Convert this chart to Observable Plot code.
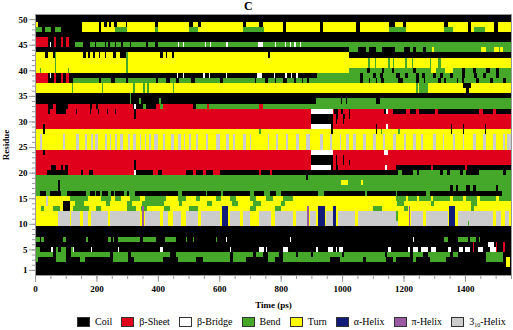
<!DOCTYPE html>
<html><head><meta charset="utf-8">
<script src="https://cdn.jsdelivr.net/npm/d3@7"></script>
<script src="https://cdn.jsdelivr.net/npm/@observablehq/plot@0.6"></script>
<style>
body{margin:0;background:#fff;}
#wrap{position:relative;width:513px;height:330px;font-family:"Liberation Serif",serif;}
#title{position:absolute;left:244px;top:0px;font-size:12px;font-weight:bold;line-height:1;}
#legend{position:absolute;left:77px;top:316px;display:flex;align-items:center;font-size:10px;line-height:12px;white-space:nowrap;}
.item{display:flex;align-items:center;margin-right:9px;white-space:nowrap;}
.sw{width:11px;height:8px;border:1px solid #333;margin-right:5px;flex:none;}
sub{font-size:6px;line-height:0;vertical-align:-2px;}
</style></head>
<body><div id="wrap"><div id="title">C</div><div id="chart"></div><div id="legend"></div></div>
<script>
const T_MAX = 1550;
const residues = d3.range(1, 51);
const states = ["Coil","β-Sheet","β-Bridge","Bend","Turn","α-Helix","π-Helix","3₁₀-Helix"];
const stateColors = ["#000000","#e0001b","#ffffff","#46a82a","#ffff00","#121c78","#9a5aa0","#cccccc"];
const xTicks = [0,200,400,600,800,1000,1200,1400];
const yTicks = [1,5,10,15,20,25,30,35,40,45,50];

// segments per residue: [residue, [start, end], ...] in ps
const turn = [
 [49,[0,10],[154,208],[215,226],[234,241],[248,256],[267,297],[300,390],[400,503],[514,530],[541,677],[688,731],[742,807],[818,927],[937,1046],[1057,1154],[1171,1198],[1209,1333],[1344,1409],[1420,1496],[1507,1550]],
 [48,[0,4],[154,208],[215,262],[300,390],[400,503],[530,677],[745,807],[818,927],[937,1046],[1057,1154],[1209,1333],[1360,1409],[1420,1430],[1465,1496],[1507,1550]],
 [43,[0,31],[42,59],[64,156],[167,172],[178,189],[194,208],[212,227],[232,254],[265,276],[303,406],[417,425],[429,447],[451,758],[765,1024]],
 [42,[0,1550]],[41,[0,1550]],[40,[0,1024]],
 [37,[0,1393],[1420,1550]],[36,[0,1405],[1413,1550]],
 [28,[0,1550]],[27,[0,1550]],[26,[0,1550]],[25,[0,1550]],
 [15,[0,37],[42,113],[173,216],[248,259],[281,308],[341,357],[427,465],[493,525],[536,590],[607,634],[655,699],[720,753],[775,807],[840,1176]],
 [14,[0,37],[42,91],[113,130],[160,230],[245,300],[315,350],[420,470],[480,560],[575,640],[660,710],[735,800],[815,1180],[1200,1290],[1300,1420],[1440,1550]],
 [13,[0,20],[30,60],[80,90],[113,125],[175,200],[215,300],[330,345],[365,420],[440,500],[530,1550]],
 [12,[0,1550]],[11,[0,1550]],[10,[0,1550]],
 [3,[1534,1546]],[2,[1534,1546]]
];
const turnTop = [
 [44,[1293,1299],[1453,1469],[1496,1510],[1515,1523]],
 [40,[1290,1307],[1334,1360]],
 [18,[997,1019],[1062,1068]],
 [15,[1209,1215],[1245,1252],[1290,1296],[1350,1362],[1395,1405],[1440,1450],[1500,1510]]
];
const grayColumns = [[15,23],[91,99],[135,143],[162,169],[183,188],[197,204],[227,234],[243,248],[259,266],[278,286],[303,308],[319,328],[341,346],[357,362],[371,379],[389,400],[417,422],[444,452],[465,476],[484,490],[503,508],[525,530],[558,563],[590,601],[623,631],[644,652],[677,688],[699,704],[758,763],[786,791],[818,823],[851,860],[883,894],[927,938],[959,968],[992,997],[1013,1022],[1035,1044],[1068,1079],[1100,1111],[1133,1141],[1165,1174],[1203,1208],[1230,1241],[1257,1265],[1296,1305],[1328,1333],[1360,1369],[1393,1398],[1426,1435],[1458,1467],[1491,1500],[1523,1532],[1538,1550]];
const graySpans = [[75,113],[118,145],[156,173],[183,238],[243,341],[357,406],[417,433],[449,476],[493,531],[541,601],[634,666],[677,699],[731,769],[780,840],[851,889],[894,916],[948,970],[986,1041],[1051,1182],[1225,1263],[1274,1344],[1377,1491],[1502,1518],[1529,1545]];
const helix310 = [
 [27,...grayColumns],[26,...grayColumns],[25,...grayColumns],
 [12,...graySpans],[11,...graySpans],[10,...graySpans],
 [15,[37,42]],[14,[37,42]],[7,[552,555]]
];
const bend = [
 [48,[4,22],[32,53],[64,86],[262,300],[390,400],[503,530],[677,745],[1154,1209],[1333,1360],[1430,1465]],
 [45,[129,156],[178,194],[200,227],[232,238],[243,259],[265,281],[286,308],[314,362],[368,390],[400,1550]],
 [44,[1024,1051],[1079,1089],[1110,1130],[1171,1203],[1220,1231],[1241,1263],[1274,1550]],
 [43,[64,69],[295,302]],
 [42,[64,69],[295,302],[1084,1090],[1106,1111],[1149,1155],[1165,1170],[1206,1212],[1228,1232],[1285,1290],[1312,1322]],
 [41,[64,69],[295,302],[1084,1090],[1106,1111],[1149,1155],[1165,1170],[1206,1212],[1228,1232],[1285,1290],[1312,1322]],
 [40,[15,20],[64,69],[107,110],[295,302],[1024,1080],[1090,1130],[1135,1162],[1170,1230],[1240,1290],[1307,1334],[1360,1390],[1400,1425],[1435,1470],[1480,1500],[1510,1550]],
 [39,[917,1057],[1068,1100],[1110,1122],[1133,1177],[1187,1205],[1215,1240],[1250,1260],[1270,1297],[1307,1320],[1330,1350],[1360,1390],[1400,1430],[1440,1460],[1470,1500],[1510,1550]],
 [38,[124,210],[216,248],[259,297],[303,395],[400,427],[438,460],[470,508],[520,601],[612,715],[720,748],[759,780],[786,808],[819,845],[851,870],[874,887],[891,1057],[1068,1087],[1091,1109],[1113,1127],[1138,1181],[1198,1241],[1252,1266],[1270,1312],[1322,1333],[1339,1375],[1379,1392],[1396,1437],[1447,1480],[1491,1524],[1535,1550]],
 [37,[120,125],[218,223],[320,326],[352,358],[365,371],[448,454],[1241,1247],[1252,1279]],
 [36,[120,125],[218,223],[320,326],[352,358],[365,371],[448,454],[1241,1247],[1252,1279]],
 [35,[309,312]],
 [34,[308,312],[340,345],[405,410],[914,995],[1000,1012],[1017,1110],[1122,1550]],
 [33,[351,362],[406,417],[525,560],[568,1550]],
 [29,[1181,1186]],
 [28,[731,737],[1127,1131],[1182,1190]],
 [20,[1181,1195],[1230,1245],[1252,1318],[1330,1340],[1350,1385],[1395,1405],[1447,1525],[1535,1550]],
 [19,[0,883],[889,1550]],
 [18,[0,75],[80,1550]],
 [17,[0,75],[80,1350],[1360,1372],[1378,1405],[1416,1427],[1437,1500],[1508,1550]],
 [16,[0,15],[37,48],[85,105],[165,178],[194,200],[212,218],[237,247],[258,262],[290,300],[306,326],[466,478],[556,560],[606,613],[699,712],[746,764],[785,802],[922,940],[1075,1082],[1176,1180],[1273,1285],[1522,1550]],
 [15,[113,173],[216,248],[259,281],[308,341],[357,427],[465,493],[525,536],[590,607],[634,655],[699,720],[753,775],[807,840],[1176,1550]],
 [14,[130,160],[230,245],[300,315],[350,420],[470,480],[560,575],[640,660],[710,735],[800,815],[1180,1200],[1290,1300],[1420,1440]],
 [13,[20,30],[60,80],[125,175],[200,215],[300,330],[345,365],[420,440],[500,530],[700,720],[780,800],[1100,1130],[1200,1215],[1420,1430]],
 [12,[1176,1182]],[11,[1176,1182]],[10,[1409,1413]],
 [7,[2,15],[21,28],[91,102],[167,173],[238,246],[254,257],[270,341],[352,395],[422,460],[493,496],[514,517],[590,593],[1333,1344],[1377,1409],[1415,1437],[1447,1450]],
 [5,[4,15],[69,75],[86,102],[118,124]],
 [4,[2,59],[69,102],[118,243],[254,303],[314,438],[460,634],[645,710],[720,742],[758,796],[807,850],[855,900],[905,1000],[1005,1140],[1145,1220],[1230,1263],[1279,1350],[1360,1377],[1469,1523]],
 [3,[2,10],[69,102],[145,162],[254,303],[324,417],[465,525],[547,634],[645,688],[758,780],[807,959],[992,1068],[1079,1144],[1165,1176],[1230,1241],[1285,1339],[1469,1523]]
];
const sheetPair = [[0,42],[61,69],[84,91],[102,110]];
const sheet = [
 [46,...sheetPair],[45,...sheetPair],[39,...sheetPair],[38,...sheetPair],
 [33,[0,42],[60,70],[107,180],[186,200],[206,319],[395,406],[417,515],[560,568],[731,742]],
 [32,[0,900],[970,1165],[1209,1220],[1241,1252],[1301,1312],[1447,1458],[1491,1502]],
 [31,[0,1550]],[30,[0,1550]],[29,[0,1550]],
 [24,[0,1550]],[23,[0,1550]],[22,[0,1550]],
 [21,[0,1176],[1290,1296],[1400,1406]],
 [20,[0,40],[107,150],[155,175],[190,324],[384,400],[412,493],[514,525],[547,558],[580,601],[731,737],[766,772]],
 [6,[1426,1431],[1502,1505],[1523,1529]],
 [5,[1426,1431],[1502,1505],[1523,1529]]
];
const coilTop = [
 [33,[42,60],[70,107],[180,186],[200,206],[319,324],[330,350],[362,395],[515,525]],
 [32,[42,50],[70,100],[134,137],[178,182],[205,208],[235,238],[262,265],[324,330],[975,986],[997,1002],[1024,1027],[1138,1142]],
 [31,[324,330],[900,970],[981,986],[1002,1008],[1024,1027]],
 [30,[900,970],[980,984],[1003,1007]],
 [29,[26,32],[964,970],[1109,1113],[1355,1359],[1393,1397],[1464,1468]],
 [28,[26,32],[964,970],[1109,1113],[1355,1359],[1393,1397],[1464,1468]],
 [24,[26,32]],
 [23,[900,970],[980,984],[1003,1007]],
 [22,[324,328],[900,970],[980,984],[1003,1007],[1024,1027]],
 [21,[53,69],[86,91],[97,108],[324,328],[964,970],[981,986]],
 [14,[91,113]],[13,[90,113]]
];
const bridge = [
 [45,[48,53],[465,468],[482,485],[552,556],[569,572],[623,627],[726,742],[780,784],[813,817],[829,833],[845,849],[862,866]],
 [39,[48,53],[462,466],[483,486],[548,553],[567,570],[622,626],[723,738],[778,782],[815,822],[835,838],[850,855]],
 [33,[324,330]],
 [32,[900,970],[1142,1149]],
 [29,[900,964],[1144,1150]],
 [24,[900,970],[1138,1149]],
 [21,[900,964],[1141,1146]],
 [20,[324,330]],
 [7,[623,626],[829,832],[1230,1234]],
 [6,[1475,1495]],
 [5,[53,59],[124,127],[183,187],[270,273],[406,417],[487,490],[634,637],[731,747],[753,756],[807,824],[916,921],[954,970],[981,984],[991,1002],[1149,1160],[1187,1190],[1214,1220],[1230,1247],[1258,1279],[1290,1307],[1344,1355],[1382,1393],[1399,1415],[1442,1458],[1480,1502]]
];
const alphaSpans = [[608,630],[921,943],[972,981],[1348,1369]];
const alpha = [[13,...alphaSpans],[12,...alphaSpans],[11,...alphaSpans],[10,...alphaSpans]];
const piSpans = [[350,354],[887,891],[1218,1222]];
const piHelix = [[13,...piSpans],[12,...piSpans],[11,...piSpans],[10,...piSpans]];

const segs = (rows, state) => rows.flatMap(([res, ...spans]) => spans.map(([t0, t1]) => ({res, t0, t1, state})));
const coilBase = residues.map(res => ({res, t0: 0, t1: T_MAX, state: "Coil"}));
const layers = [
 ...coilBase,
 ...segs(turn, "Turn"),
 ...segs(helix310, "3₁₀-Helix"),
 ...segs(bend, "Bend"),
 ...segs(turnTop, "Turn"),
 ...segs(sheet, "β-Sheet"),
 ...segs(coilTop, "Coil"),
 ...segs(bridge, "β-Bridge"),
 ...segs(alpha, "α-Helix"),
 ...segs(piHelix, "π-Helix")
];

const chart = Plot.plot({
 width: 513, height: 310,
 marginLeft: 35, marginRight: 2, marginTop: 14, marginBottom: 35,
 style: {fontFamily: "Liberation Serif", fontSize: "9px", fontWeight: "bold", background: "white", color: "black"},
 x: {domain: [0, T_MAX]},
 y: {domain: [0, 51]},
 color: {domain: states, range: stateColors},
 marks: [
  Plot.frame({fill: "black"}),
  Plot.rect(layers, {x1: "t0", x2: "t1", y1: d => d.res - 0.5, y2: d => d.res + 0.5, fill: "state", shapeRendering: "crispEdges"}),
  Plot.axisX(d3.range(0, T_MAX + 1, 50), {tickSize: 4, tickFormat: () => "", label: null, stroke: "#999"}),
  Plot.axisX(xTicks, {tickSize: 7, tickPadding: 3, stroke: "#999", fill: "black", tickFormat: d => String(d), fontWeight: "bold", label: "Time (ps)", labelAnchor: "center", labelOffset: 32, labelArrow: "none", fontSize: 9}),
  Plot.axisY(residues, {tickSize: 3, tickFormat: () => "", label: null, stroke: "#999"}),
  Plot.axisY(yTicks, {tickSize: 6, tickPadding: 2, stroke: "#999", fill: "black", tickFormat: d => String(d), fontWeight: "bold", label: "Residue", labelAnchor: "center", labelOffset: 33, labelArrow: "none", fontSize: 9}),
  Plot.frame({stroke: "#999"})
 ]
});
document.getElementById("chart").appendChild(chart);

const legend = document.getElementById("legend");
states.forEach((s, i) => {
 const item = document.createElement("div");
 item.className = "item";
 const sw = document.createElement("div");
 sw.className = "sw";
 sw.style.background = stateColors[i];
 const lab = document.createElement("span");
 if (s === "3₁₀-Helix") { lab.innerHTML = "3<sub>10</sub>-Helix"; }
 else lab.textContent = s;
 item.appendChild(sw); item.appendChild(lab);
 legend.appendChild(item);
});
</script></body></html>
